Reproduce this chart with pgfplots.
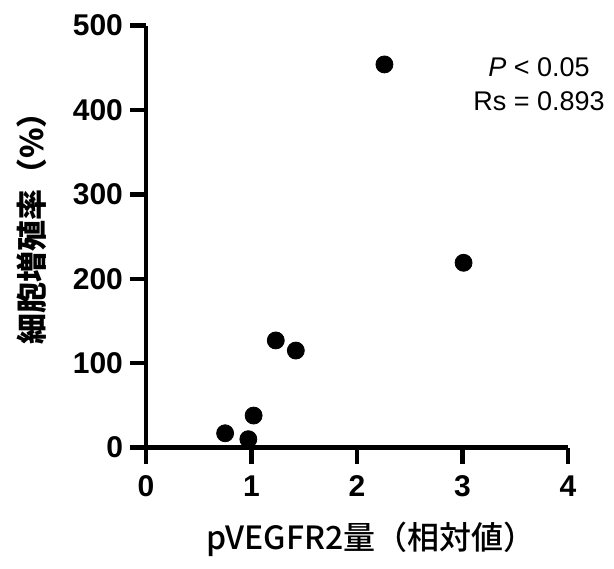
\documentclass[border=0pt]{standalone}
\usepackage{fontspec}
\setmainfont{Liberation Sans}
\newfontfamily\cjk{Noto Sans CJK JP}
\newfontfamily\cjkm{Noto Sans CJK JP Medium}
\usepackage{pgfplots}
\pgfplotsset{compat=1.18}
\begin{document}
\begin{tikzpicture}
\begin{axis}[
  scale only axis, width=211pt, height=211pt,
  xmin=0, xmax=4, ymin=0, ymax=500,
  axis x line*=bottom, axis y line*=left,
  axis line style={line width=2.3pt, black},
  tick align=outside, major tick length=8pt,
  tick style={line width=2.2pt, black},
  xtick={0,1,2,3,4}, ytick={0,100,200,300,400,500},
  /pgf/number format/assume math mode=true,
  tick label style={font=\fontsize{15}{17}\selectfont\bfseries},
  xticklabel style={yshift=-2.5pt},
  xlabel={\cjkm pVEGFR2量（相対値）},
  ylabel={\cjk\bfseries 細胞増殖率（\%）},
  xlabel style={font=\fontsize{16}{18}\selectfont, at={(axis description cs:0.533,-0.218)}, anchor=center},
  ylabel style={font=\fontsize{15.5}{18}\selectfont, at={(axis description cs:-0.270,0.537)}, anchor=center},
  clip=false,
]
\addplot[only marks, mark=*, mark size=4.25pt, black] coordinates {
  (2.26,454) (3.01,219) (1.23,127) (1.42,115) (1.02,38) (0.75,17) (0.97,10)
};
\node[align=center, font=\fontsize{13.5}{17}\selectfont] at (axis cs:3.725,430) {\textit{P} < 0.05\\Rs = 0.893};
\path (rel axis cs:-0.346,-0.2867) rectangle (rel axis cs:1.109,1.0607);
\end{axis}
\end{tikzpicture}
\end{document}
